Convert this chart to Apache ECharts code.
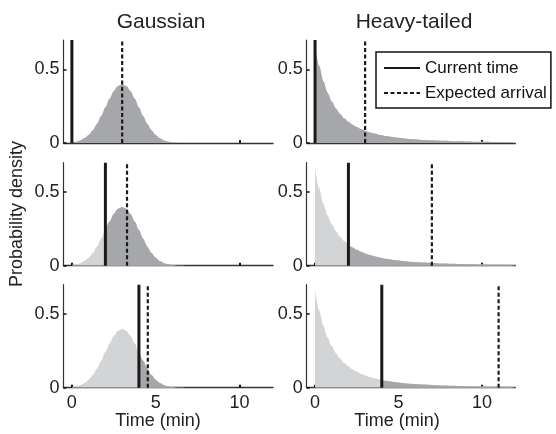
<!DOCTYPE html>
<html>
<head>
<meta charset="utf-8">
<script src="https://cdn.jsdelivr.net/npm/echarts@6/dist/echarts.min.js"></script>
<style>
html,body{margin:0;padding:0;background:#fff;}
#chart{width:556px;height:434px;}
</style>
</head>
<body>
<div id="chart"></div>
<script>
// ---- data ----
const timeGrid = [0,0.25,0.5,0.75,1,1.25,1.5,1.75,2,2.25,2.5,2.75,3,3.25,3.5,3.75,4,4.25,4.5,4.75,5,5.25,5.5,5.75,6,6.25,6.5,6.75,7,7.25,7.5,7.75,8,8.25,8.5,8.75,9,9.25,9.5,9.75,10,10.25,10.5,10.75,11,11.25,11.5,11.75,12];
const gaussianDensity = [0.0044,0.0091,0.0175,0.0317,0.0540,0.0863,0.1295,0.1827,0.2420,0.3011,0.3521,0.3867,0.3989,0.3867,0.3521,0.3011,0.2420,0.1827,0.1295,0.0863,0.0540,0.0317,0.0175,0.0091,0.0044,0.0020,0.0009,0.0004,0.0001,0,0,0,0,0,0,0,0,0,0,0,0,0,0,0,0,0,0,0,0];
const heavyDensity = [0.6667,0.5243,0.4198,0.3413,0.2813,0.2345,0.1975,0.1680,0.1440,0.1244,0.1082,0.0947,0.0833,0.0737,0.0655,0.0585,0.0525,0.0472,0.0427,0.0387,0.0352,0.0321,0.0293,0.0269,0.0247,0.0227,0.0210,0.0194,0.0180,0.0167,0.0155,0.0145,0.0135,0.0126,0.0118,0.0111,0.0104,0.0098,0.0092,0.0087,0.0082,0.0077,0.0073,0.0069,0.0066,0.0062,0.0059,0.0056,0.0053];
const currentTimes = [0, 2, 4];
const gaussianExpected = [3.0, 3.29, 4.53];
const heavyExpected = [3, 7, 11];
const columnTitles = ['Gaussian', 'Heavy-tailed'];
const xTicks = [0, 5, 10];
const yTicks = [0, 0.5];
const yMax = 0.7;

// ---- layout / style ----
const FONT = 'Liberation Sans, Arial, Helvetica, sans-serif';
const colLeft = [63.5, 306.7];
const colWidth = [209.5, 208.6];
const rowTop = [40, 162.7, 284.7];
const rowHeight = 103;
const LIGHT = '#d3d4d6';
const DARK = '#a6a7aa';
const INK = '#1a1a1a';

const grids = [], xAxes = [], yAxes = [], series = [];
const densities = [gaussianDensity, heavyDensity];
const expected = [gaussianExpected, heavyExpected];

let idx = 0;
for (let r = 0; r < 3; r++) {
  for (let c = 0; c < 2; c++) {
    grids.push({left: colLeft[c], top: rowTop[r], width: colWidth[c], height: rowHeight});
    xAxes.push({
      gridIndex: idx, type: 'value', min: -0.5, max: 12,
      axisLine: {show: true, onZero: false, lineStyle: {color: '#333', width: 1.4}},
      axisTick: {show: true, inside: true, length: 3, customValues: xTicks, lineStyle: {color: '#111', width: 2}},
      axisLabel: {show: r === 2, customValues: xTicks, fontSize: 18, color: '#222', margin: 6, fontFamily: FONT},
      splitLine: {show: false}
    });
    yAxes.push({
      gridIndex: idx, type: 'value', min: 0, max: yMax,
      axisLine: {show: true, onZero: false, lineStyle: {color: '#333', width: 1.2}},
      axisTick: {show: true, inside: true, length: 3, customValues: yTicks, lineStyle: {color: '#111', width: 1.5}},
      axisLabel: {customValues: yTicks, fontSize: 18, color: '#222', margin: 4, fontFamily: FONT},
      splitLine: {show: false}
    });
    const dens = densities[c];
    const t = currentTimes[r];
    const full = timeGrid.map((x, i) => [x, dens[i]]);
    const after = full.filter(p => p[0] >= t);
    series.push({
      type: 'line', xAxisIndex: idx, yAxisIndex: idx, data: full, symbol: 'none',
      smooth: 0.3, smoothMonotone: 'x', silent: true, z: 1,
      lineStyle: {width: 0, color: LIGHT}, areaStyle: {color: LIGHT, opacity: 1}
    });
    series.push({
      type: 'line', xAxisIndex: idx, yAxisIndex: idx, data: after, symbol: 'none',
      smooth: 0.3, smoothMonotone: 'x', silent: true, z: 2,
      lineStyle: {width: 0, color: DARK}, areaStyle: {color: DARK, opacity: 1}
    });
    series.push({
      name: 'Current time', type: 'line', xAxisIndex: idx, yAxisIndex: idx,
      data: [[t, 0], [t, yMax]], symbol: 'none', silent: true, z: 5,
      itemStyle: {color: 'rgba(0,0,0,0)'},
      lineStyle: {color: INK, width: 3, type: 'solid'}
    });
    const e = expected[c][r];
    series.push({
      name: 'Expected arrival', type: 'line', xAxisIndex: idx, yAxisIndex: idx,
      data: [[e, 0], [e, yMax]], symbol: 'none', silent: true, z: 5,
      itemStyle: {color: 'rgba(0,0,0,0)'},
      lineStyle: {color: INK, width: 2.2, type: [4, 2.5]}
    });
    idx++;
  }
}

const chart = echarts.init(document.getElementById('chart'), null, {renderer: 'canvas'});
chart.setOption({
  animation: false,
  backgroundColor: '#fff',
  grid: grids,
  xAxis: xAxes,
  yAxis: yAxes,
  series: series,
  legend: {
    data: ['Current time', 'Expected arrival'],
    orient: 'vertical', left: 376, top: 52,
    itemWidth: 36, itemHeight: 14, itemGap: 5,
    padding: [6, 4, 5, 7],
    borderColor: '#111', borderWidth: 1.5, borderRadius: 0,
    backgroundColor: '#fff',
    selectedMode: false,
    itemStyle: {opacity: 0},
    textStyle: {fontSize: 17, color: '#111', lineHeight: 20, fontFamily: FONT}
  },
  graphic: [
    {type: 'text', x: 161, y: 22, style: {text: columnTitles[0], fontSize: 21, fontFamily: FONT, fill: '#222', textAlign: 'center', textVerticalAlign: 'middle', align: 'center', verticalAlign: 'middle'}},
    {type: 'text', x: 414, y: 22, style: {text: columnTitles[1], fontSize: 21, fontFamily: FONT, fill: '#222', textAlign: 'center', textVerticalAlign: 'middle', align: 'center', verticalAlign: 'middle'}},
    {type: 'text', x: 158, y: 421, style: {text: 'Time (min)', fontSize: 18, fontFamily: FONT, fill: '#222', textAlign: 'center', textVerticalAlign: 'middle', align: 'center', verticalAlign: 'middle'}},
    {type: 'text', x: 397, y: 421, style: {text: 'Time (min)', fontSize: 18, fontFamily: FONT, fill: '#222', textAlign: 'center', textVerticalAlign: 'middle', align: 'center', verticalAlign: 'middle'}},
    {type: 'text', x: 17, y: 214, rotation: Math.PI / 2, style: {text: 'Probability density', fontSize: 18, fontFamily: FONT, fill: '#222', textAlign: 'center', textVerticalAlign: 'middle', align: 'center', verticalAlign: 'middle'}}
  ]
});
</script>
</body>
</html>
